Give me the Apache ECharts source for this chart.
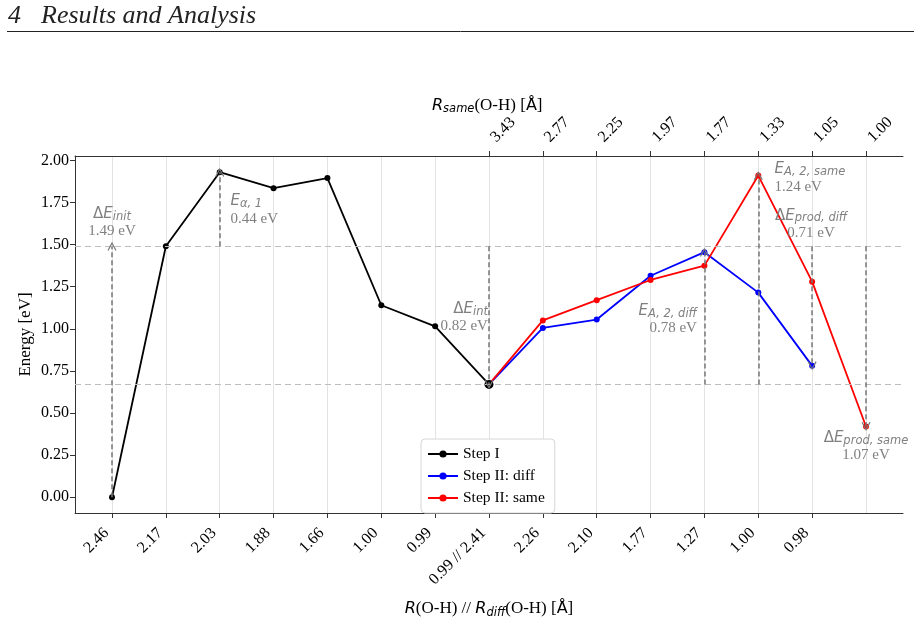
<!DOCTYPE html>
<html>
<head>
<meta charset="utf-8">
<script src="https://cdn.jsdelivr.net/npm/echarts@6/dist/echarts.min.js"></script>
<style>
  html, body { margin: 0; padding: 0; background: #fff; }
  #chart { width: 921px; height: 624px; }
</style>
</head>
<body>
<div id="chart"></div>
<script>
// ---- data ----
var bottomLabels = ['2.46', '2.17', '2.03', '1.88', '1.66', '1.00', '0.99', '0.99 // 2.41', '2.26', '2.10', '1.77', '1.27', '1.00', '0.98'];
var topLabels = ['3.43', '2.77', '2.25', '1.97', '1.77', '1.33', '1.05', '1.00'];   // positions 7..14
var yTicks = [0, 0.25, 0.5, 0.75, 1.0, 1.25, 1.5, 1.75, 2.0];

var stepI = [0, 1.49, 1.93, 1.835, 1.895, 1.14, 1.015, 0.67];           // x = 0..7
var stepIIdiff = [0.67, 1.005, 1.055, 1.315, 1.455, 1.215, 0.78];       // x = 7..13
var stepIIsame = [0.67, 1.05, 1.17, 1.29, 1.375, 1.91, 1.28, 0.42];     // x = 7..14

var refLevels = [1.49, 0.67];
// vertical arrows: [x, from, to]
var arrows = [[0, 0, 1.49], [2, 1.49, 1.93], [7, 1.49, 0.67], [11, 0.67, 1.455],
              [12, 0.67, 1.91], [13, 1.49, 0.78], [14, 1.49, 0.42]];

var gray = '#808080';

function pts(arr, start) {
  return arr.map(function (v, i) { return [start + i, v]; });
}
function idxList(n, start) {
  var out = [];
  for (var i = 0; i < n; i++) out.push(start + i);
  return out;
}

var rich = {
  g: { fontFamily: 'DejaVu Sans', fontSize: 15, color: gray, lineHeight: 17 },
  e: { fontFamily: 'DejaVu Sans', fontStyle: 'italic', fontSize: 15, color: gray, lineHeight: 17 },
  s: { fontFamily: 'DejaVu Sans', fontStyle: 'italic', fontSize: 11.5, color: gray, lineHeight: 10, verticalAlign: 'bottom' },
  v: { fontFamily: 'Liberation Serif', fontSize: 15, color: gray, lineHeight: 17 }
};

// annotation texts: [x, y, align, text]
var notes = [
  [0, 1.63, 'center', '{g|Δ}{e|E}{s|init}\n{v|1.49 eV}'],
  [2.2, 1.705, 'left', '{e|E}{s|α, 1}\n{v|0.44 eV}'],
  [6.98, 1.065, 'right', '{g|Δ}{e|E}{s|int}\n{v|0.82 eV}'],
  [10.86, 1.055, 'right', '{e|E}{s|A, 2, diff}\n{v|0.78 eV}'],
  [12.3, 1.895, 'left', '{e|E}{s|A, 2, same}\n{v|1.24 eV}'],
  [12.98, 1.62, 'center', '{g|Δ}{e|E}{s|prod, diff}\n{v|0.71 eV}'],
  [14, 0.3, 'center', '{g|Δ}{e|E}{s|prod, same}\n{v|1.07 eV}']
];

var chart = echarts.init(document.getElementById('chart'), null, { renderer: 'canvas' });

var serif = 'Liberation Serif';
var arrowPath = 'path://M0,10 L5,0 L10,10 L8.8,10.6 L5,3 L1.2,10.6 Z';
var titleRich = {
  i: { fontFamily: 'DejaVu Sans', fontStyle: 'italic', fontSize: 16, fill: '#000', color: '#000', lineHeight: 20 },
  t: { fontFamily: serif, fontSize: 17, fill: '#000', color: '#000', lineHeight: 20 },
  a: { fontFamily: 'DejaVu Sans', fontSize: 16, fill: '#000', color: '#000', lineHeight: 20 },
  b: { fontFamily: 'DejaVu Sans', fontStyle: 'italic', fontSize: 11.5, fill: '#000', color: '#000', lineHeight: 12, verticalAlign: 'bottom' }
};

var stepIData = pts(stepI, 0);
stepIData[stepIData.length - 1] = { value: stepIData[stepIData.length - 1], symbolSize: 9 };

var option = {
  backgroundColor: '#fff',
  animation: false,
  textStyle: { fontFamily: serif },
  grid: { left: 75, right: 18, top: 156, bottom: 105, containLabel: false },
  graphic: [
    { type: 'text', left: 8, top: 3, style: { text: '4', font: 'italic 26px "Liberation Serif"', fill: '#222' } },
    { type: 'text', left: 41, top: 3, style: { text: 'Results and Analysis', font: 'italic 26px "Liberation Serif"', fill: '#222' } },
    { type: 'line', shape: { x1: 7, y1: 31.5, x2: 914, y2: 31.5 }, style: { stroke: '#222', lineWidth: 1 } },
    // top axis title
    { type: 'text', left: 432, top: 97, style: { text: '{i|R}{b|same}{t|(O-H) [}{a|Å}{t|]}', rich: titleRich } }
  ],
  legend: {
    orient: 'vertical',
    left: 421, top: 439,
    padding: [7, 10, 7, 6],
    itemGap: 6,
    itemWidth: 30, itemHeight: 9,
    backgroundColor: '#fff',
    borderColor: '#d6d6d6', borderWidth: 1, borderRadius: 4,
    textStyle: { fontFamily: serif, fontSize: 15.5, color: '#000' },
    data: ['Step I', 'Step II: diff', 'Step II: same']
  },
  xAxis: [
    {
      type: 'value', position: 'bottom', min: -0.687, max: 14.687,
      axisLine: { show: true, onZero: false, lineStyle: { color: '#333', width: 1 } },
      axisTick: { show: true, length: 5, customValues: idxList(bottomLabels.length, 0), lineStyle: { color: '#333' } },
      axisLabel: {
        customValues: idxList(bottomLabels.length, 0), rotate: 45, margin: 12,
        padding: [0, 8, 0, 0],
        fontFamily: serif, fontSize: 16, color: '#000',
        formatter: function (v) { return bottomLabels[Math.round(v)]; }
      },
      splitLine: { show: false },
      name: '{i|R}{t|(O-H) // }{i|R}{b|diff}{t|(O-H) [}{a|Å}{t|]}',
      nameLocation: 'middle', nameGap: 86, nameMoveOverlap: false,
      nameTextStyle: { rich: titleRich }
    },
    {
      type: 'value', position: 'top', min: -0.687, max: 14.687,
      axisLine: { show: true, onZero: false, lineStyle: { color: '#333', width: 1 } },
      axisTick: { show: true, length: 5, customValues: idxList(topLabels.length, 7), lineStyle: { color: '#333' } },
      axisLabel: {
        customValues: idxList(topLabels.length, 7), rotate: -45, margin: 12,
        padding: [0, 0, 0, 6],
        fontFamily: serif, fontSize: 16, color: '#000',
        formatter: function (v) { return topLabels[Math.round(v) - 7]; }
      },
      splitLine: { show: false }
    },
    {
      // only for the vertical grid lines
      type: 'value', position: 'bottom', min: -0.687, max: 14.687, show: true,
      axisLine: { show: false }, axisLabel: { show: false },
      axisTick: { show: false, customValues: idxList(15, 0) },
      splitLine: { show: true, lineStyle: { color: '#e3e3e3', width: 1 } }
    }
  ],
  yAxis: {
    type: 'value', min: -0.0935, max: 2.026,
    axisLine: { show: true, onZero: false, lineStyle: { color: '#333', width: 1 } },
    axisTick: { show: true, length: 5, customValues: yTicks, lineStyle: { color: '#333' } },
    axisLabel: {
      customValues: yTicks, margin: 6,
      fontFamily: serif, fontSize: 16, color: '#000',
      formatter: function (v) { return v.toFixed(2); }
    },
    splitLine: { show: false },
    name: 'Energy [eV]', nameLocation: 'middle', nameGap: 41, nameMoveOverlap: false,
    nameTextStyle: { fontFamily: serif, fontSize: 17, color: '#000' }
  },
  series: [
    {
      name: 'levels', type: 'line', data: [], silent: true,
      markLine: {
        silent: true, animation: false,
        symbol: ['none', 'none'],
        label: { show: false },
        lineStyle: { color: '#bdbdbd', type: [6, 4], width: 1.2 },
        emphasis: { disabled: true },
        data: refLevels.map(function (v) { return { yAxis: v }; })
      }
    },
    {
      name: 'arrows', type: 'line', data: [], silent: true,
      markLine: {
        silent: true, animation: false,
        symbol: ['none', arrowPath], symbolSize: [9, 9],
        label: { show: false },
        lineStyle: { color: '#777', type: [5, 3], width: 1.5 },
        emphasis: { disabled: true },
        data: arrows.map(function (a) { return [{ coord: [a[0], a[1]] }, { coord: [a[0], a[2]] }]; })
      },
      markPoint: {
        silent: true, animation: false,
        symbol: 'rect', symbolSize: 1,
        itemStyle: { color: 'transparent' },
        data: notes.map(function (n) {
          return {
            coord: [n[0], n[1]],
            label: { show: true, position: 'inside', align: n[2], verticalAlign: 'middle', formatter: n[3], rich: rich }
          };
        })
      }
    },
    {
      name: 'Step I', type: 'line', data: stepIData,
      color: '#000', symbol: 'circle', symbolSize: 6,
      lineStyle: { width: 1.8 }, z: 4
    },
    {
      name: 'Step II: diff', type: 'line', data: pts(stepIIdiff, 7),
      color: '#0000ff', symbol: 'circle', symbolSize: 6,
      lineStyle: { width: 1.8 }, z: 3
    },
    {
      name: 'Step II: same', type: 'line', data: pts(stepIIsame, 7),
      color: '#ff0000', symbol: 'circle', symbolSize: 6,
      lineStyle: { width: 1.8 }, z: 3
    }
  ]
};

chart.setOption(option);
</script>
</body>
</html>
